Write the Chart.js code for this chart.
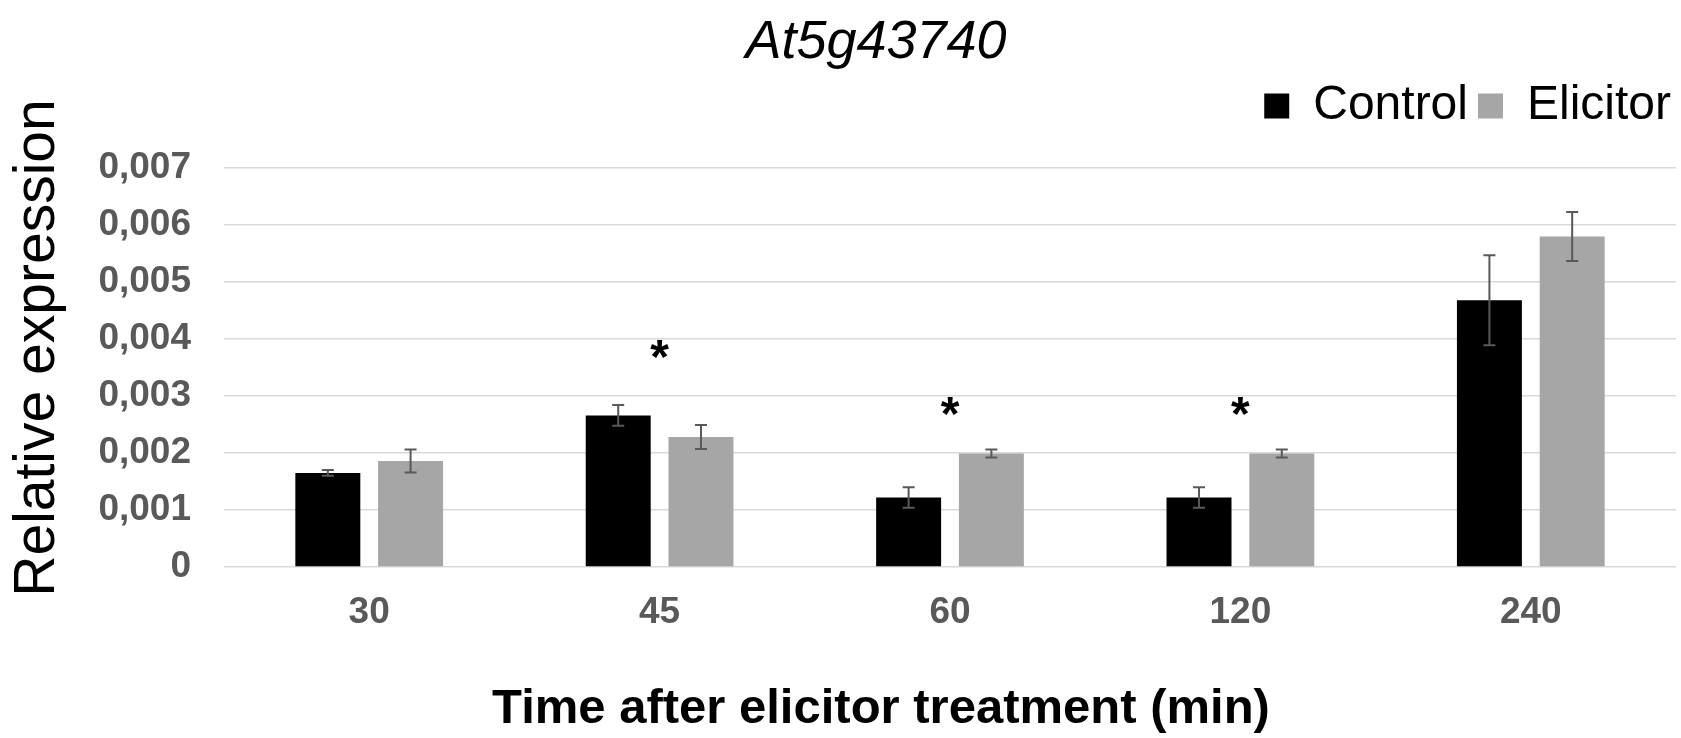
<!DOCTYPE html>
<html>
<head>
<meta charset="utf-8">
<title>At5g43740</title>
<script src="https://cdn.jsdelivr.net/npm/chart.js@4"></script>
<style>
    html, body { margin: 0; padding: 0; background: #fff; }
    #wrap { width: 1681px; height: 738px; }
</style>
</head>
<body>
<div id="wrap"><canvas id="expChart" width="1681" height="738"></canvas></div>
<script>
const timePoints = ["30", "45", "60", "120", "240"];
const controlMean = [0.00165, 0.00266, 0.00122, 0.00122, 0.00468];
const controlErr = [0.00005, 0.00018, 0.00018, 0.00018, 0.00079];
const elicitorMean = [0.00186, 0.00228, 0.00199, 0.00199, 0.00580];
const elicitorErr = [0.00020, 0.00021, 0.00007, 0.00007, 0.00043];
const starLevel = [null, 0.00390, 0.00290, 0.00290, null];
const yTickLabels = ["0", "0,001", "0,002", "0,003", "0,004", "0,005", "0,006", "0,007"];

const FONT = "'Liberation Sans', Arial, Helvetica, sans-serif";

// error bars + significance stars, and a few layout nudges
const extras = {
    id: "extras",
    afterLayout(chart) {
        // keep title + legend at the top edge (the plot starts lower than they need)
        const t = chart.titleBlock;
        const lg = chart.legend;
        t.top = 0;
        t.bottom = t.height;
        lg.top = t.bottom;
        lg.bottom = lg.top + lg.height;
        lg.right = chart.width;
        // titles in the original are centred on the figure, not on the plot area
        t.left = 76;
        chart.scales.x.left = 86;
        chart.scales.y.top = 129;
    },
    afterDatasetsDraw(chart) {
        const ctx = chart.ctx;
        const y = chart.scales.y;
        const x = chart.scales.x;
        ctx.save();
        ctx.strokeStyle = "#595959";
        ctx.lineWidth = 2;
        chart.data.datasets.forEach((ds, d) => {
            const meta = chart.getDatasetMeta(d);
            meta.data.forEach((bar, i) => {
                const top = y.getPixelForValue(ds.data[i] + ds.errors[i]);
                const bot = y.getPixelForValue(ds.data[i] - ds.errors[i]);
                ctx.beginPath();
                ctx.moveTo(bar.x, top);
                ctx.lineTo(bar.x, bot);
                ctx.moveTo(bar.x - 6, top);
                ctx.lineTo(bar.x + 6, top);
                ctx.moveTo(bar.x - 6, bot);
                ctx.lineTo(bar.x + 6, bot);
                ctx.stroke();
            });
        });
        ctx.fillStyle = "#000";
        ctx.font = "bold 48px " + FONT;
        ctx.textAlign = "center";
        ctx.textBaseline = "alphabetic";
        starLevel.forEach((v, i) => {
            if (v === null) return;
            ctx.fillText("*", x.getPixelForValue(i), y.getPixelForValue(v) + 28);
        });
        ctx.restore();
    }
};

new Chart(document.getElementById("expChart"), {
    type: "bar",
    data: {
        labels: timePoints,
        datasets: [
            {
                label: "Control",
                data: controlMean,
                errors: controlErr,
                backgroundColor: "#000000",
                borderWidth: 0
            },
            {
                label: "Elicitor",
                data: elicitorMean,
                errors: elicitorErr,
                backgroundColor: "#a6a6a6",
                borderWidth: 0
            }
        ]
    },
    options: {
        responsive: false,
        animation: false,
        devicePixelRatio: 1,
        categoryPercentage: 0.57,
        barPercentage: 0.785,
        layout: { padding: { left: 0, right: 5, top: 0, bottom: 0 } },
        plugins: {
            title: {
                display: true,
                text: "At5g43740",
                color: "#000",
                font: { family: FONT, size: 54, style: "italic", weight: "normal", lineHeight: 1.0 },
                padding: { top: 16, bottom: 2 }
            },
            legend: {
                position: "top",
                align: "end",
                labels: {
                    color: "#000",
                    font: { family: FONT, size: 48 },
                    boxWidth: 25,
                    boxHeight: 25,
                    padding: 10
                }
            },
            tooltip: { enabled: false }
        },
        scales: {
            x: {
                grid: { display: false, drawTicks: false },
                border: { display: false },
                ticks: {
                    color: "#595959",
                    padding: 24,
                    font: { family: FONT, size: 37, weight: "bold" }
                },
                title: {
                    display: true,
                    text: "Time after elicitor treatment (min)",
                    color: "#000",
                    font: { family: FONT, size: 49, weight: "bold", lineHeight: 1.1 },
                    padding: { top: 0, bottom: 2 }
                },
                afterFit(s) { s.height = 171; }
            },
            y: {
                min: 0,
                max: 0.007,
                grid: { color: "#d9d9d9", lineWidth: 1.5, drawTicks: false },
                border: { display: false },
                ticks: {
                    stepSize: 0.001,
                    color: "#595959",
                    padding: 33,
                    font: { family: FONT, size: 37, weight: "bold" },
                    callback: (v, i) => yTickLabels[i]
                },
                title: {
                    display: true,
                    text: "Relative expression",
                    color: "#000",
                    font: { family: FONT, size: 57, weight: "normal", lineHeight: 1.2 },
                    padding: { top: 4, bottom: 0 }
                },
                afterFit(s) { s.width = 224; s.paddingTop = 168; }
            }
        }
    },
    plugins: [extras]
});
</script>
</body>
</html>
